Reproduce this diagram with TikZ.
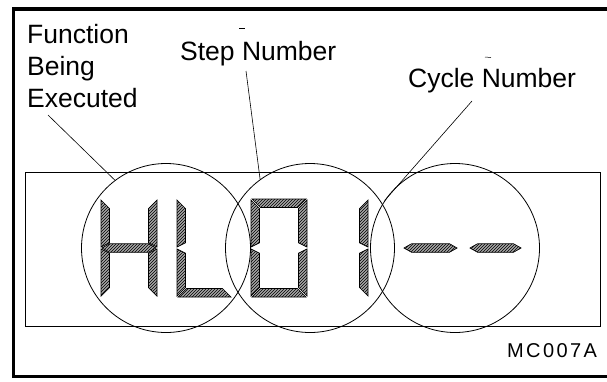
\documentclass[tikz,border=0pt]{standalone}
\usepackage{fontspec}
\setmainfont{Liberation Sans}
\usetikzlibrary{patterns}

% seven-segment geometry: thickness, gap, top, bottom and middle rows
\def\T{8.5}
\def\G{1}
\def\Ytop{199}
\def\Ybot{297}
\def\Ymid{248}

% segments: #1 = left edge of the digit cell, #2 = cell width
\newcommand\segtop[2]{\draw[lcdseg] ({#1+\G},\Ytop) -- ({#1+#2-\G},\Ytop) -- ({#1+#2-\T-\G},{\Ytop+\T}) -- ({#1+\T+\G},{\Ytop+\T}) -- cycle;}
\newcommand\segbot[2]{\draw[lcdseg] ({#1+\G},\Ybot) -- ({#1+#2-\G},\Ybot) -- ({#1+#2-\T-\G},{\Ybot-\T}) -- ({#1+\T+\G},{\Ybot-\T}) -- cycle;}
\newcommand\segul[2]{\draw[lcdseg] (#1,{\Ytop+\G}) -- ({#1+\T},{\Ytop+\T+\G}) -- ({#1+\T},{\Ymid-\T/2-\G}) -- (#1,{\Ymid-\G}) -- cycle;}
\newcommand\segll[2]{\draw[lcdseg] (#1,{\Ymid+\G}) -- ({#1+\T},{\Ymid+\T/2+\G}) -- ({#1+\T},{\Ybot-\T-\G}) -- (#1,{\Ybot-\G}) -- cycle;}
\newcommand\segur[2]{\draw[lcdseg] ({#1+#2},{\Ytop+\G}) -- ({#1+#2-\T},{\Ytop+\T+\G}) -- ({#1+#2-\T},{\Ymid-\T/2-\G}) -- ({#1+#2},{\Ymid-\G}) -- cycle;}
\newcommand\seglr[2]{\draw[lcdseg] ({#1+#2},{\Ymid+\G}) -- ({#1+#2-\T},{\Ymid+\T/2+\G}) -- ({#1+#2-\T},{\Ybot-\T-\G}) -- ({#1+#2},{\Ybot-\G}) -- cycle;}
\newcommand\segmid[2]{\draw[lcdseg] ({#1+\G},\Ymid) -- ({#1+\T},{\Ymid-\T/2}) -- ({#1+#2-\T},{\Ymid-\T/2}) -- ({#1+#2-\G},\Ymid) -- ({#1+#2-\T},{\Ymid+\T/2}) -- ({#1+\T},{\Ymid+\T/2}) -- cycle;}

\tikzset{
  lcdseg/.style={draw=black, line width=0.7pt, line join=miter,
                 preaction={fill=black!35},
                 pattern=north east lines, pattern color=black},
  label/.style={font=\fontsize{26.5}{32}\selectfont, inner sep=0pt, anchor=base west},
  lens/.style={circle, draw=black, line width=0.8pt, minimum size=169pt, inner sep=0pt},
  leader/.style={draw=black, line width=0.6pt},
}

\begin{document}
\begin{tikzpicture}[x=1pt,y=-1pt]
  \clip (0,0) rectangle (607,381);

  % outer frame (right side runs off the page)
  \draw[line width=3.5pt] (13.5,9) rectangle (612,376.5);

  % display window
  \draw[line width=0.9pt] (25,172) rectangle (600,326);

  % H
  \segul{101}{56} \segll{101}{56} \segur{101}{56} \seglr{101}{56} \segmid{101}{56}
  % L
  \segul{177}{55} \segll{177}{55} \segbot{177}{55}
  % 0
  \segtop{251}{56} \segul{251}{56} \segll{251}{56} \segur{251}{56} \seglr{251}{56} \segbot{251}{56}
  % 1
  \segur{312}{56} \seglr{312}{56}
  % - -
  \segmid{403}{55}
  \segmid{469}{53}

  % circles grouping the fields
  \node[lens] (c1) at (166,248) {};
  \node[lens] (c2) at (310,248) {};
  \node[lens] (c3) at (455,248) {};

  % labels
  \node[label] (func1) at (27,43) {Function};
  \node[label] (func2) at (27,75) {Being};
  \node[label] (func3) at (27,107) {Executed};
  \node[label] (step) at (180,60) {Step Number};
  \node[label] (cycle) at (408,87) {Cycle Number};
  \node[font=\fontsize{20}{24}\selectfont\addfontfeature{LetterSpace=12},
        inner sep=0pt, anchor=base west] (code) at (507,357) {MC007A};

  % leader lines
  \coordinate (fl) at (48,115);
  \coordinate (sl) at (246,71);
  \coordinate (cl) at (472,101);
  \draw[leader] (fl) -- (c1.127);
  \draw[leader] (sl) -- (c2.126);
  \draw[leader] (cl) -- (c3.146);

  % small stray ticks above the labels
  \draw[line width=0.5pt] (239,28) -- (245,28);
  \draw[line width=0.5pt] (485,57) -- (491,57.5);
\end{tikzpicture}
\end{document}
